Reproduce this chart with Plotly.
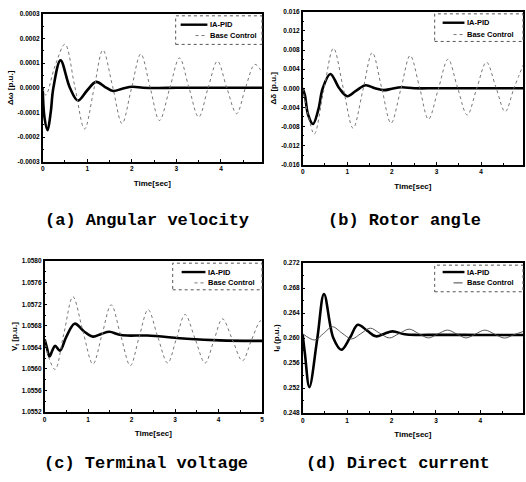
import plotly.graph_objects as go

W, H = 526, 482

# ---------------- data ----------------
# (a) angular velocity deviation
t_a_pid = [0, 0.04, 0.11, 0.18, 0.24, 0.40, 0.61, 0.79, 1.00, 1.20, 1.40, 1.58, 1.80, 2.01, 2.25, 2.60, 3.00, 4.00, 4.93]
a_pid = [0, -0.000120, -0.000172, -0.000100, 0.000000, 0.000111, 0.000000, -0.000052, -0.000010, 0.000024,
         0.000003, -0.000013, -0.000003, 0.000004, 0.000000, -0.000001, 0.0, 0.0, 0.0]
t_a_base = [0, 0.07, 0.28, 0.50, 0.72, 0.94, 1.15, 1.35, 1.57, 1.78, 1.99, 2.20, 2.41, 2.62, 2.85, 3.07,
            3.28, 3.50, 3.71, 3.92, 4.13, 4.35, 4.55, 4.76, 4.93]
a_base = [0, -0.000030, 0.000090, 0.000177, 0.000005, -0.000167, -0.000005, 0.000153, 0.000004, -0.000145,
          -0.000004, 0.000137, 0.000002, -0.000133, -0.000002, 0.000121, 0.000001, -0.000119, -0.000001,
          0.000108, 0.0, -0.000105, 0.0, 0.000095, 0.000060]

# (b) rotor angle deviation
t_b_pid = [0, 0.05, 0.12, 0.23, 0.35, 0.45, 0.62, 0.82, 1.00, 1.20, 1.41, 1.62, 1.82, 2.00, 2.21, 2.50, 3.00, 4.00, 4.95]
b_pid = [0, -0.0015, -0.0055, -0.0075, -0.0045, 0.0000, 0.0030, 0.0000, -0.00166, -0.0005, 0.00062, 0.0000,
         -0.0004, -0.0001, 0.0002, 0.0000, 0.0, 0.0, 0.0]
t_b_base = [0, 0.12, 0.26, 0.47, 0.69, 0.91, 1.13, 1.35, 1.56, 1.77, 1.98, 2.20, 2.41, 2.62, 2.82, 3.04, 3.26,
            3.47, 3.69, 3.90, 4.12, 4.33, 4.54, 4.74, 4.95]
b_base = [0, -0.0055, -0.0096, -0.0005, 0.00837, 0.0000, -0.00835, -0.0004, 0.00746, 0.0001, -0.00731, -0.0002,
          0.00684, 0.0002, -0.00649, -0.0002, 0.00609, 0.0002, -0.0056, -0.0001, 0.00547, 0.0003, -0.0049,
          0.0001, 0.0050]

# (c) terminal voltage
t_c_pid = [0, 0.05, 0.11, 0.18, 0.24, 0.35, 0.50, 0.69, 0.90, 1.11, 1.30, 1.49, 1.70, 1.90, 2.36, 3.27, 4.03, 5.00]
c_pid = [1.05655, 1.05640, 1.05623, 1.05635, 1.05643, 1.05634, 1.05660, 1.05684, 1.05670, 1.05660, 1.05665,
         1.05669, 1.05664, 1.05662, 1.05662, 1.05656, 1.05653, 1.05652]
t_c_base = [0, 0.10, 0.24, 0.44, 0.65, 0.88, 1.11, 1.32, 1.53, 1.75, 1.97, 2.17, 2.38, 2.60, 2.83, 3.03, 3.23,
            3.46, 3.69, 3.89, 4.09, 4.32, 4.55, 4.75, 4.96, 5.00]
c_base = [1.05655, 1.05620, 1.05599, 1.05665, 1.05734, 1.05670, 1.05609, 1.05664, 1.05719, 1.05662, 1.05606,
          1.05658, 1.05710, 1.05660, 1.05611, 1.05656, 1.05701, 1.05656, 1.05611, 1.05652, 1.05693, 1.05654,
          1.05615, 1.05652, 1.05689, 1.05688]

# (d) direct-axis current
t_d_pid = [0, 0.05, 0.15, 0.33, 0.48, 0.69, 0.87, 1.06, 1.24, 1.45, 1.65, 1.84, 2.02, 2.30, 2.60, 3.00, 4.00, 4.98]
d_pid = [0.26055, 0.2575, 0.25214, 0.2600, 0.26706, 0.2600, 0.25813, 0.2600, 0.26213, 0.2612, 0.26028, 0.2607,
         0.26107, 0.26060, 0.26050, 0.26052, 0.26050, 0.26050]
t_d_base = [0, 0.27, 0.47, 0.67, 0.88, 1.10, 1.31, 1.52, 1.73, 1.95, 2.17, 2.40, 2.61, 2.83, 3.04, 3.26, 3.47,
            3.68, 3.89, 4.10, 4.32, 4.54, 4.75, 4.97]
d_base = [0.26071, 0.25970, 0.26075, 0.26181, 0.26083, 0.25986, 0.26072, 0.26159, 0.26080, 0.26002, 0.26072,
          0.26143, 0.26072, 0.26002, 0.26065, 0.26128, 0.26065, 0.26002, 0.26065, 0.26128, 0.26064, 0.26000,
          0.26053, 0.26107]

# tick labels
a_ticks = [-0.0003, -0.0002, -0.0001, 0.0, 0.0001, 0.0002, 0.0003]
a_ticktext = ["-0.0003", "-0.0002", "-0.0001", "0.0000", "0.0001", "0.0002", "0.0003"]
b_ticks = [-0.016, -0.012, -0.008, -0.004, 0.0, 0.004, 0.008, 0.012, 0.016]
b_ticktext = ["-0.016", "-0.012", "-0.008", "-0.004", "0.000", "0.004", "0.008", "0.012", "0.016"]
c_ticks = [1.0552, 1.0556, 1.0560, 1.0564, 1.0568, 1.0572, 1.0576, 1.0580]
c_ticktext = ["1.0552", "1.0556", "1.0560", "1.0564", "1.0568", "1.0572", "1.0576", "1.0580"]
d_ticks = [0.248, 0.252, 0.256, 0.260, 0.264, 0.268, 0.272]
d_ticktext = ["0.248", "0.252", "0.256", "0.260", "0.264", "0.268", "0.272"]
x_ticks_abd = [0, 1, 2, 3, 4]
x_ticks_c = [0, 1, 2, 3, 4, 5]

series_names = ["IA-PID", "Base Control"]
captions = ["(a) Angular velocity", "(b) Rotor angle", "(c) Terminal voltage", "(d) Direct current"]
y_titles = ["Δω [p.u.]", "Δδ [p.u.]", "V<sub>t</sub> [p.u.]", "I<sub>d</sub> (p.u.)"]
x_title = "Time[sec]"

# ---------------- figure ----------------
def px_x(p):
    return p / W

def px_y(p):
    return 1 - p / H

fig = go.Figure()

panels = [
    dict(t1=t_a_pid, y1=a_pid, t2=t_a_base, y2=a_base, xa="x", ya="y", dash="dot", bcol="#777777", bw=1.0),
    dict(t1=t_b_pid, y1=b_pid, t2=t_b_base, y2=b_base, xa="x2", ya="y2", dash="dot", bcol="#777777", bw=1.0),
    dict(t1=t_c_pid, y1=c_pid, t2=t_c_base, y2=c_base, xa="x3", ya="y3", dash="dot", bcol="#777777", bw=1.0),
    dict(t1=t_d_pid, y1=d_pid, t2=t_d_base, y2=d_base, xa="x4", ya="y4", dash="solid", bcol="#444444", bw=0.9),
]

for p in panels:
    fig.add_trace(go.Scatter(x=p["t1"], y=p["y1"], mode="lines", name=series_names[0], showlegend=False,
                             line=dict(color="black", width=2.6, shape="spline", smoothing=1.0),
                             xaxis=p["xa"], yaxis=p["ya"]))
    fig.add_trace(go.Scatter(x=p["t2"], y=p["y2"], mode="lines", name=series_names[1], showlegend=False,
                             line=dict(color=p["bcol"], width=p["bw"], dash=p["dash"], shape="spline",
                                       smoothing=1.0),
                             xaxis=p["xa"], yaxis=p["ya"]))

tickfont = dict(family="Liberation Sans", size=6.5, color="black", weight="bold")
titlefont = dict(family="Liberation Sans", size=8, color="black", weight="bold")

def xaxis(dom, rng, anchor, tv):
    return dict(domain=dom, range=rng, anchor=anchor, showline=True, linewidth=1.5, linecolor="black",
                mirror=True, showgrid=False, zeroline=False, ticks="inside", ticklen=3, tickwidth=1,
                tickcolor="black", tickvals=tv, ticktext=[str(v) for v in tv],
                title=dict(text=x_title, font=titlefont, standoff=9),
                tickfont=tickfont, minor=dict(ticks="inside", ticklen=2, dtick=0.5, tick0=0,
                                              tickcolor="black"))

def yaxis(dom, rng, anchor, tv, tt, mdt, title):
    return dict(domain=dom, range=rng, anchor=anchor, showline=True, linewidth=1.5, linecolor="black",
                mirror=True, showgrid=False, zeroline=False, ticks="inside", ticklen=3, tickwidth=1,
                tickcolor="black", tickvals=tv, ticktext=tt, tickfont=tickfont,
                title=dict(text=title, font=titlefont, standoff=3),
                minor=dict(ticks="inside", ticklen=2, dtick=mdt, tick0=tv[0], tickcolor="black"))

dom_a = ([px_x(41), px_x(262)], [px_y(160), px_y(10)])
dom_b = ([px_x(303), px_x(525)], [px_y(163), px_y(8)])
dom_c = ([px_x(43), px_x(262)], [px_y(414), px_y(261)])
dom_d = ([px_x(303), px_x(525)], [px_y(415), px_y(263)])

fig.update_layout(
    width=W, height=H, margin=dict(l=0, r=0, t=0, b=0),
    paper_bgcolor="white", plot_bgcolor="white", showlegend=False,
    xaxis=xaxis(dom_a[0], [0, 4.92], "y", x_ticks_abd),
    yaxis=yaxis(dom_a[1], [-0.0003, 0.0003], "x", a_ticks, a_ticktext, 0.00005, y_titles[0]),
    xaxis2=xaxis(dom_b[0], [0, 4.94], "y2", x_ticks_abd),
    yaxis2=yaxis(dom_b[1], [-0.016, 0.016], "x2", b_ticks, b_ticktext, 0.002, y_titles[1]),
    xaxis3=xaxis(dom_c[0], [0, 5.0], "y3", x_ticks_c),
    yaxis3=yaxis(dom_c[1], [1.0552, 1.0580], "x3", c_ticks, c_ticktext, 0.0002, y_titles[2]),
    xaxis4=xaxis(dom_d[0], [0, 4.96], "y4", x_ticks_abd),
    yaxis4=yaxis(dom_d[1], [0.248, 0.272], "x4", d_ticks, d_ticktext, 0.002, y_titles[3]),
)

# ---- legends (one boxed key per panel) ----
annots = []
legfont = dict(family="Liberation Sans", size=7.5, color="black", weight="bold")
leg_geo = [
    ((175, 12, 262, 41), 180, 195, 207, 21, 32),
    ((436, 10, 525, 38), 444, 455, 466, 19, 31),
    ((172, 263, 262, 290), 181, 194, 205, 272, 283),
    ((436, 265, 525, 292), 444, 455, 466, 272, 283),
]
base_styles = [("#777777", "dot"), ("#777777", "dot"), ("#777777", "dot"), ("#444444", "dash")]
for (box, xs1, xs2, xe, ry1, ry2), (bc, bd) in zip(leg_geo, base_styles):
    x0, y0, x1, y1 = box
    fig.add_shape(type="rect", xref="paper", yref="paper", x0=px_x(x0), x1=px_x(x1), y0=px_y(y1),
                  y1=px_y(y0), line=dict(color="#555555", width=1, dash="dot"))
    fig.add_shape(type="line", xref="paper", yref="paper", x0=px_x(xs1), x1=px_x(xe), y0=px_y(ry1),
                  y1=px_y(ry1), line=dict(color="black", width=2.4))
    fig.add_shape(type="line", xref="paper", yref="paper", x0=px_x(xs2), x1=px_x(xe), y0=px_y(ry2),
                  y1=px_y(ry2), line=dict(color=bc, width=1, dash=bd))
    for name, ry in zip(series_names, (ry1, ry2)):
        annots.append(dict(text=name, x=px_x(xe + 1), y=px_y(ry), xref="paper", yref="paper",
                           showarrow=False, xanchor="left", yanchor="middle", font=legfont))

cap_pos = [(146, 220), (406, 220), (145, 466), (399, 466)]
for txt, (cx, cy) in zip(captions, cap_pos):
    annots.append(dict(text=txt, x=px_x(cx), y=px_y(cy), xref="paper", yref="paper", showarrow=False,
                       xanchor="center", yanchor="middle",
                       font=dict(family="Liberation Mono", size=17, color="black", weight="bold")))
fig.update_layout(annotations=annots)

fig.write_html("out.html", config={"displayModeBar": False},
               post_script="document.body.style.margin='0';document.body.style.overflow='hidden';")
